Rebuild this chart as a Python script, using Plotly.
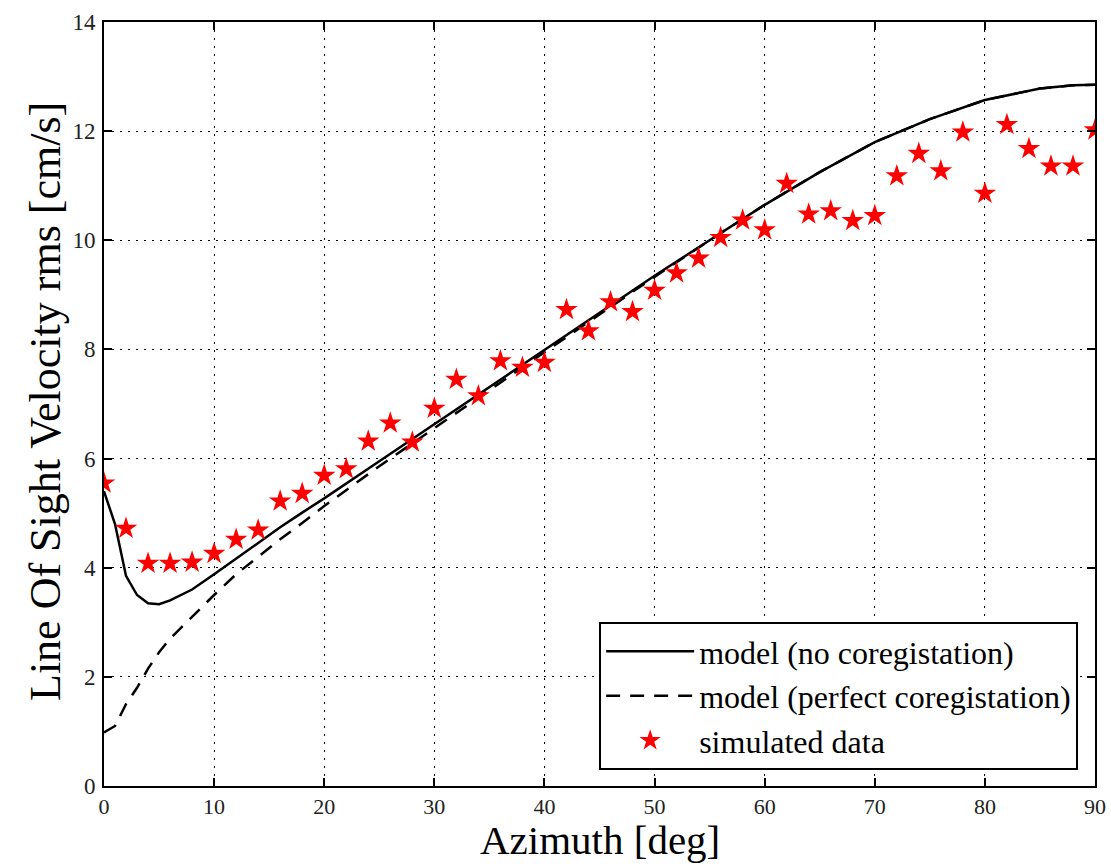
import plotly.graph_objects as go

# Simulated data (stars)
data_az = list(range(0, 92, 2))
data_vel = [5.55, 4.72, 4.08, 4.08, 4.10, 4.26, 4.52, 4.69, 5.22, 5.36,
            5.69, 5.81, 6.32, 6.65, 6.30, 6.92, 7.45, 7.15, 7.79, 7.67,
            7.76, 8.73, 8.34, 8.87, 8.69, 9.08, 9.40, 9.67, 10.05, 10.37,
            10.19, 11.04, 10.48, 10.54, 10.36, 10.45, 11.18, 11.59, 11.27, 11.98,
            10.86, 12.12, 11.68, 11.36, 11.36, 12.02]

# Model (no coregistration)
model1_az = [0, 1, 2, 3, 4, 5, 6, 8, 10, 12, 14, 16, 18, 20, 25, 30, 35, 40,
             45, 50, 55, 60, 65, 70, 75, 80, 85, 88, 90]
model1_vel = [5.40, 4.80, 3.85, 3.50, 3.35, 3.33, 3.40, 3.60, 3.88, 4.17, 4.46,
              4.74, 5.01, 5.27, 5.95, 6.63, 7.31, 7.99, 8.68, 9.35, 10.00,
              10.65, 11.25, 11.80, 12.22, 12.57, 12.78, 12.84, 12.85]

# Model (perfect coregistration)
model2_az = [0, 1, 2, 3, 4, 5, 6, 8, 10, 12, 14, 16, 18, 20, 25, 30, 35, 40,
             45, 50, 55, 60, 65, 70, 75, 80, 85, 88, 90]
model2_vel = [0.98, 1.10, 1.50, 1.80, 2.15, 2.45, 2.70, 3.10, 3.50, 3.88, 4.20,
              4.52, 4.82, 5.13, 5.86, 6.56, 7.26, 7.95, 8.64, 9.33, 10.00,
              10.65, 11.25, 11.80, 12.22, 12.57, 12.78, 12.84, 12.85]

x_ticks = [0, 10, 20, 30, 40, 50, 60, 70, 80, 90]
y_ticks = [0, 2, 4, 6, 8, 10, 12, 14]

FONT = "Liberation Serif"

fig = go.Figure()
fig.add_trace(go.Scatter(x=model1_az, y=model1_vel, mode="lines",
                         name="model (no coregistation)",
                         line=dict(color="black", width=2.5)))
fig.add_trace(go.Scatter(x=model2_az, y=model2_vel, mode="lines",
                         name="model (perfect coregistation)",
                         line=dict(color="black", width=2.5, dash="14px,10px")))
fig.add_trace(go.Scatter(x=data_az, y=data_vel, mode="markers",
                         name="simulated data",
                         marker=dict(symbol="star", color="red", size=17,
                                     line=dict(width=0))))

axis_common = dict(
    showline=True, linecolor="black", linewidth=2, mirror="ticks",
    ticks="inside", ticklen=8, tickwidth=1.5, tickcolor="black",
    showgrid=True, gridcolor="black", gridwidth=1, griddash="2px,6px",
    zeroline=False, automargin=False, ticklabeloverflow="allow",
)

fig.update_xaxes(range=[0, 90], tickvals=x_ticks, ticktext=[str(v) for v in x_ticks],
                 tickfont=dict(family=FONT, size=22, color="#222"),
                 **axis_common)
fig.update_yaxes(range=[0, 14], tickvals=y_ticks, ticktext=[str(v) for v in y_ticks],
                 tickfont=dict(family=FONT, size=23, color="#222"),
                 ticklabelstandoff=2, **axis_common)

fig.add_annotation(text="Azimuth [deg]", xref="paper", yref="paper",
                   x=0.5, y=-(840 - 786) / 764, xanchor="center", yanchor="middle",
                   showarrow=False, borderpad=0,
                   font=dict(family=FONT, size=41, color="black"))
fig.add_annotation(text="Line Of Sight Velocity rms [cm/s]", xref="paper", yref="paper",
                   x=(45 - 104) / 991, y=(786 - 402) / 764, xanchor="center", yanchor="middle",
                   textangle=-90, showarrow=False,
                   font=dict(family=FONT, size=44, color="black"))

fig.update_layout(
    width=1111, height=868,
    margin=dict(l=104, r=16, t=22, b=82),
    paper_bgcolor="white", plot_bgcolor="white",
    font=dict(family=FONT, color="black"),
    legend=dict(x=0.983, y=0.021, xanchor="right", yanchor="bottom",
                bgcolor="white", bordercolor="black", borderwidth=2,
                font=dict(family=FONT, size=32, color="black"),
                itemwidth=88),
    showlegend=True,
)

# remove the page's default body margin so the figure fills the window exactly
fig.write_html("out.html", config={"displayModeBar": False},
               post_script="document.body.style.margin='0';document.body.style.overflow='hidden';")
